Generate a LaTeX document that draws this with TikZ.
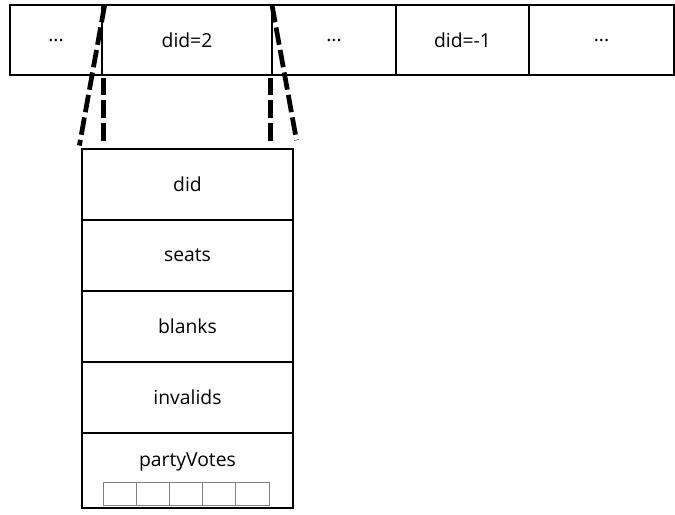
\documentclass[tikz,border=0pt]{standalone}
\usepackage{fontspec}
\setmainfont{Open Sans}
\usepackage{tikz}

\tikzset{
  cell/.style={draw,line width=1.1pt,outer sep=0pt,inner sep=0pt,
    minimum height=1.40cm,font=\fontsize{11}{13}\selectfont},
  field/.style={draw,line width=1.1pt,outer sep=0pt,inner sep=0pt,
    minimum width=4.22cm,minimum height=1.42cm,font=\fontsize{11}{13}\selectfont},
  slot/.style={draw=gray,line width=0.5pt,outer sep=0pt,inner sep=0pt,
    minimum width=0.664cm,minimum height=0.46cm},
  link/.style={line width=2.7pt,dash pattern=on 10pt off 3pt}
}

\begin{document}
\begin{tikzpicture}[x=0.02cm,y=0.02cm]
\useasboundingbox (0,0) rectangle (675,514);
% array of districts
\node[cell,minimum width=1.84cm] (dots1) at (56,474)    {...};
\node[cell,minimum width=3.40cm] (did2)  at (187,474)   {did=2};
\node[cell,minimum width=2.48cm] (dots2) at (334,474)   {...};
\node[cell,minimum width=2.66cm] (didm1) at (462.5,474) {did=-1};
\node[cell,minimum width=2.90cm] (dots3) at (601.5,474) {...};
% fields of one district
\foreach \n/\t/\y in {fdid/did/329.5, fseats/seats/258.5,
                      fblanks/blanks/187.5, finvalids/invalids/116.5}{
  \node[field] (\n) at (187.5,\y) {\t};}
\node[field,minimum height=1.50cm] (fvotes) at (187.5,43.5) {};
\node[font=\fontsize{11}{13}\selectfont] (pvlabel) at (187.5,52) {partyVotes};
% vote slots
\foreach \i/\x in {1/119.6, 2/152.8, 3/186, 4/219.2, 5/252.4}{
  \node[slot] (pv\i) at (\x,20.5) {};}
% zoom lines
\coordinate (ltop) at ([xshift=1pt]did2.south west);
\coordinate (rtop) at ([xshift=-1pt]did2.south east);
\coordinate (lend) at ([yshift=3.5pt]ltop |- fdid.north);
\coordinate (rend) at ([yshift=3.5pt]rtop |- fdid.north);
\draw[link] ([xshift=1.5pt]did2.north west) -- ([xshift=-1.5pt,yshift=2pt]fdid.north west);
\draw[link] (did2.north east) -- ([xshift=2pt,yshift=5pt]fdid.north east);
\draw[link] ([yshift=-1.5pt]ltop) -- (lend);
\draw[link] ([yshift=-1.5pt]rtop) -- (rend);
\end{tikzpicture}
\end{document}
